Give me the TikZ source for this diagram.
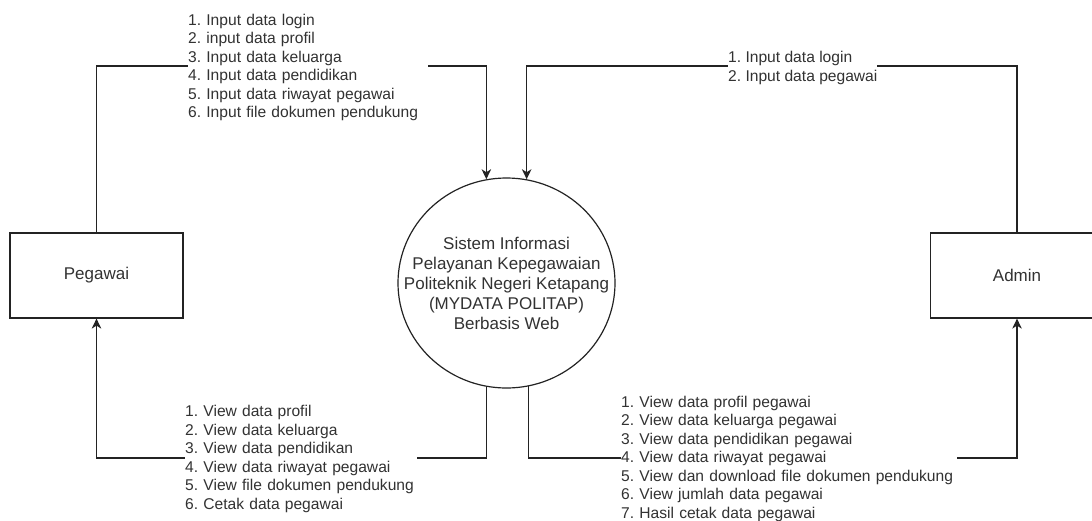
\documentclass[tikz,border=0pt]{standalone}
\usepackage{fontspec}
\setmainfont{Liberation Sans}
\usetikzlibrary{arrows.meta,shapes.geometric}
\definecolor{txt}{RGB}{50,50,50}
\definecolor{ln}{RGB}{35,35,35}
\frenchspacing
\hyphenpenalty=10000
\exhyphenpenalty=10000
\begin{document}
\begin{tikzpicture}[x=1pt,y=-1pt,
  entity/.style={draw=ln,line width=1.2pt,minimum width=173pt,minimum height=85pt,inner sep=0pt,
    font=\fontsize{17}{20}\selectfont,text=txt},
  proc/.style={ellipse,draw=ln,line width=1.2pt,minimum width=217pt,minimum height=210pt,
    inner xsep=-30pt,inner ysep=0pt,
    align=center,font=\fontsize{17}{20}\selectfont,text=txt},
  flow/.style={draw=ln,line width=1.2pt,-{Stealth[length=10pt,width=9.5pt,inset=3pt]}},
  lbl/.style={fill=white,inner xsep=0pt,inner ysep=1pt,align=left,anchor=west,
    font=\fontsize{15.6}{18.5}\selectfont\frenchspacing,text=txt}]
\useasboundingbox (0,0) rectangle (1092,520);
\clip (0,0) rectangle (1092,520);
\fill[white] (0,0) rectangle (1092,520);
\coordinate (yt) at (0,66);
\coordinate (yb) at (0,458);
\node[entity] (peg) at (96.5,275.5) {Pegawai};
\node[entity] (adm) at (1017,275.5) {Admin};
\node[proc] (sys) at (506.5,283) {Sistem Informasi\\Pelayanan Kepegawaian\\Politeknik Negeri Ketapang\\(MYDATA POLITAP)\\Berbasis Web};
% flows
\draw[flow] (peg.north) -- (peg.north |- yt) -| (sys.101.5);
\draw[flow] (adm.north) -- (adm.north |- yt) -| (sys.79);
\draw[flow] (sys.259.6) |- (peg.south |- yb) -- (peg.south);
\draw[flow] (sys.282.1) |- (adm.south |- yb) -- (adm.south);
% labels
\node[lbl,text width=240pt] (l1) at (188,67.5) {1. Input data login\\2. input data profil\\3. Input data keluarga\\4. Input data pendidikan\\5. Input data riwayat pegawai\\6. Input file dokumen pendukung};
\node[lbl] (l2) at (728,68) {1. Input data login\\2. Input data pegawai};
\node[lbl,text width=232pt] (l3) at (185,459) {1. View data profil\\2. View data keluarga\\3. View data pendidikan\\4. View data riwayat pegawai\\5. View file dokumen pendukung\\6. Cetak data pegawai};
\node[lbl,text width=336pt] (l4) at (621,458.5) {1. View data profil pegawai\\2. View data keluarga pegawai\\3. View data pendidikan pegawai\\4. View data riwayat pegawai\\5. View dan download file dokumen pendukung\\6. View jumlah data pegawai\\7. Hasil cetak data pegawai};
\end{tikzpicture}
\end{document}
